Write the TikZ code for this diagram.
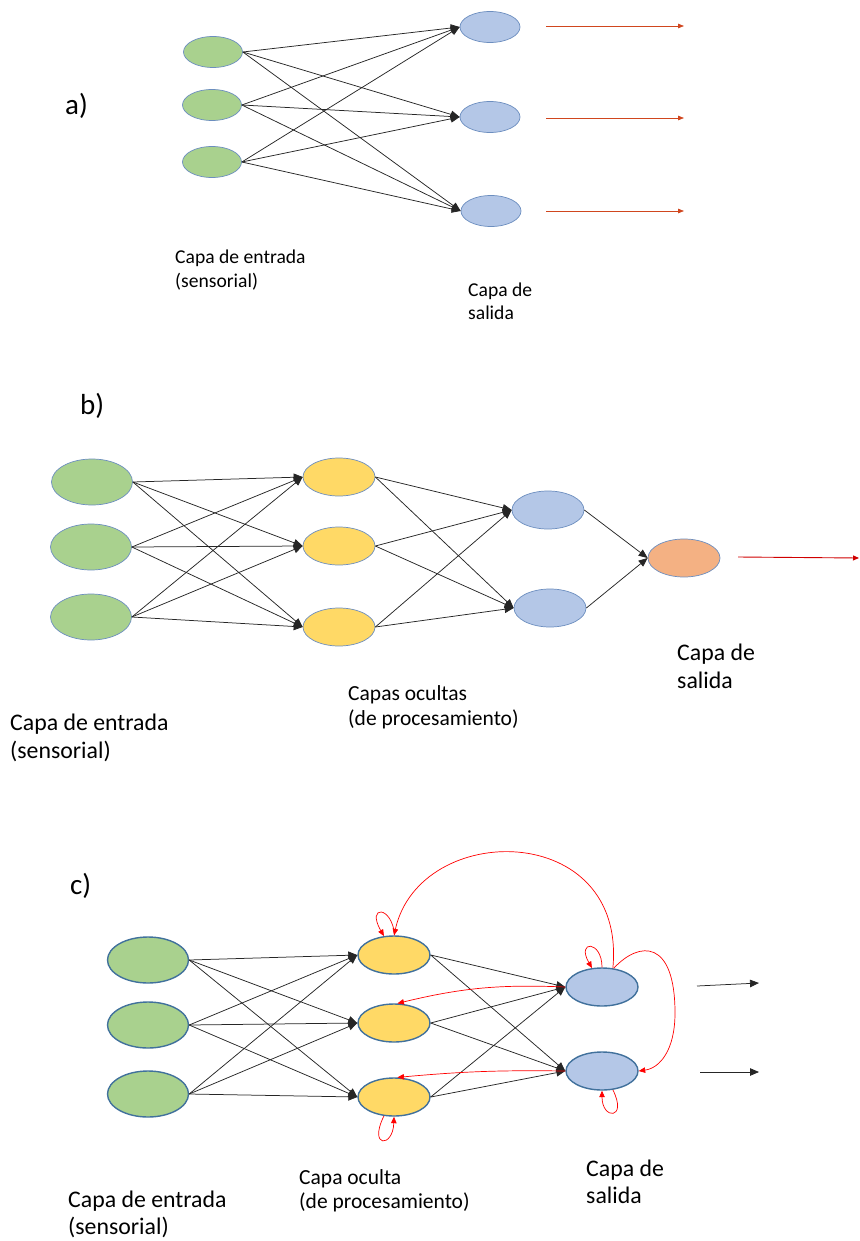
\documentclass[tikz,border=0pt]{standalone}
\usepackage{fontspec}
\setmainfont{Carlito}
\usetikzlibrary{shapes.geometric,arrows.meta}
\definecolor{cgreen}{HTML}{A9D18E}
\definecolor{cyellow}{HTML}{FFD966}
\definecolor{cblue}{HTML}{B4C7E7}
\definecolor{corange}{HTML}{F4B183}
\definecolor{cborder}{HTML}{6C8EBF}
\definecolor{cborderc}{HTML}{41719C}
\definecolor{credA}{HTML}{D0461E}
\definecolor{credB}{HTML}{D00000}
\definecolor{credC}{HTML}{FF0000}
\begin{document}
\begin{tikzpicture}[x=1pt,y=-1pt,
  neuron/.style={ellipse,draw=cborder,line width=0.7pt,inner sep=0pt},
  neuronc/.style={ellipse,draw=cborderc,line width=1.4pt,inner sep=0pt},
  sa/.style={neuron,fill=cgreen,minimum width=59pt,minimum height=31pt},
  sb/.style={neuron,fill=cblue,minimum width=60pt,minimum height=31pt},
  gbig/.style={fill=cgreen,minimum width=81pt,minimum height=46pt},
  hid/.style={fill=cyellow,minimum width=72pt,minimum height=38pt},
  outb/.style={fill=cblue,minimum width=72pt,minimum height=38pt},
  conn/.style={draw=black!85,line width=0.75pt,-{Triangle[length=9pt,width=7.5pt]}},
  redA/.style={draw=credA,line width=0.75pt,-{Triangle[length=6pt,width=4.5pt]}},
  redB/.style={draw=credB,line width=0.9pt,-{Triangle[length=6pt,width=5pt]}},
  rec/.style={draw=credC,line width=0.7pt,-{Triangle[length=6.5pt,width=5.5pt]}},
  lbl/.style={anchor=base west,inner sep=0pt,align=left},
  part/.style={anchor=base west,inner sep=0pt,font=\fontsize{29}{32}\selectfont}
]
\useasboundingbox (0,0) rectangle (859,1241);

% ---------------- a) ----------------
\node[part] (la) at (65,115) {a)};
\node[sa] (a1) at (213,52) {};
\node[sa] (a2) at (212,105) {};
\node[sa] (a3) at (212,162) {};
\node[sb] (o1) at (490,27) {};
\node[sb] (o2) at (490,117) {};
\node[sb] (o3) at (491,211) {};
\foreach \i in {1,2,3}{\foreach \j in {1,2,3}{\draw[conn] (a\i.east) -- (o\j.west);}}
\coordinate (ra1s) at (546,26); \coordinate (ra1e) at (684,26);
\coordinate (ra2s) at (546,118); \coordinate (ra2e) at (684,118);
\coordinate (ra3s) at (546,211); \coordinate (ra3e) at (684,211);
\draw[redA] (ra1s) -- (ra1e);
\draw[redA] (ra2s) -- (ra2e);
\draw[redA] (ra3s) -- (ra3e);
\node[lbl,font=\fontsize{19.6}{24}\selectfont] (ta1) at (175,287) {Capa de entrada\\(sensorial)};
\node[lbl,font=\fontsize{19.6}{23}\selectfont] (ta2) at (468,319) {Capa de\\salida};

% ---------------- b) ----------------
\node[part] (lb) at (80,414) {b)};
\node[neuron,gbig] (b1) at (92,482) {};
\node[neuron,gbig] (b2) at (91,547) {};
\node[neuron,gbig] (b3) at (91,617) {};
\node[neuron,hid] (h1) at (339,477) {};
\node[neuron,hid] (h2) at (339,546) {};
\node[neuron,hid] (h3) at (339,627) {};
\node[neuron,outb] (p1) at (548,510) {};
\node[neuron,outb] (p2) at (550,608) {};
\node[neuron,fill=corange,minimum width=72pt,minimum height=38pt] (q) at (684,558) {};
\foreach \i in {1,2,3}{\foreach \j in {1,2,3}{\draw[conn] (b\i.east) -- (h\j.west);}}
\foreach \i in {1,2,3}{\foreach \j in {1,2}{\draw[conn] (h\i.east) -- (p\j.west);}}
\draw[conn] (p1.east) -- (q.west);
\draw[conn] (p2.east) -- (q.west);
\coordinate (rbs) at (738,557); \coordinate (rbe) at (859,558);
\draw[redB] (rbs) -- (rbe);
\node[lbl,font=\fontsize{23.8}{28}\selectfont] (tb1) at (10,758) {Capa de entrada\\(sensorial)};
\node[lbl,font=\fontsize{21.5}{25}\selectfont] (tb2) at (348,725) {Capas ocultas\\(de procesamiento)};
\node[lbl,font=\fontsize{23.8}{28}\selectfont] (tb3) at (677,688) {Capa de\\salida};

% ---------------- c) ----------------
\node[part] (lc) at (70,894) {c)};
\node[neuronc,gbig] (c1) at (148,960) {};
\node[neuronc,gbig] (c2) at (148,1025) {};
\node[neuronc,gbig] (c3) at (148,1094) {};
\node[neuronc,hid] (k1) at (394,955) {};
\node[neuronc,hid] (k2) at (394,1023) {};
\node[neuronc,hid] (k3) at (394,1097) {};
\node[neuronc,outb] (s1) at (602,987) {};
\node[neuronc,outb] (s2) at (602,1071) {};
\foreach \i in {1,2,3}{\foreach \j in {1,2,3}{\draw[conn] (c\i.east) -- (k\j.west);}}
\foreach \i in {1,2,3}{\foreach \j in {1,2}{\draw[conn] (k\i.east) -- (s\j.west);}}
% recurrent connections
\draw[rec] (s1.60) .. controls (627,820) and (420,820) .. (k1.north);
\draw[rec] (k1.88) .. controls (392,905) and (366,905) .. (k1.118);
\draw[rec] (s1.north) .. controls (602,940) and (576,940) .. (s1.118);
\draw[rec] (s1.58) .. controls (640,940) and (675,940) .. (675,1013) .. controls (675,1050) and (660,1068) .. (s2.east);
\draw[rec] (s2.-60) .. controls (628,1120) and (602,1120) .. (s2.south);
\draw[rec] (k3.-118) .. controls (368,1148) and (393,1148) .. (k3.south);
\draw[rec] (s1.west) to[bend right=8] (k2.80);
\draw[rec] (s2.west) to[bend right=3] (k3.80);
\coordinate (oc1s) at (697,986); \coordinate (oc1e) at (759,983);
\coordinate (oc2s) at (700,1072); \coordinate (oc2e) at (759,1072);
\draw[conn] (oc1s) -- (oc1e);
\draw[conn] (oc2s) -- (oc2e);
\node[lbl,font=\fontsize{23.8}{27}\selectfont] (tc1) at (68,1234) {Capa de entrada\\(sensorial)};
\node[lbl,font=\fontsize{21.5}{24}\selectfont] (tc2) at (299,1208) {Capa oculta\\(de procesamiento)};
\node[lbl,font=\fontsize{23.8}{27}\selectfont] (tc3) at (586,1203) {Capa de\\salida};
\end{tikzpicture}
\end{document}
